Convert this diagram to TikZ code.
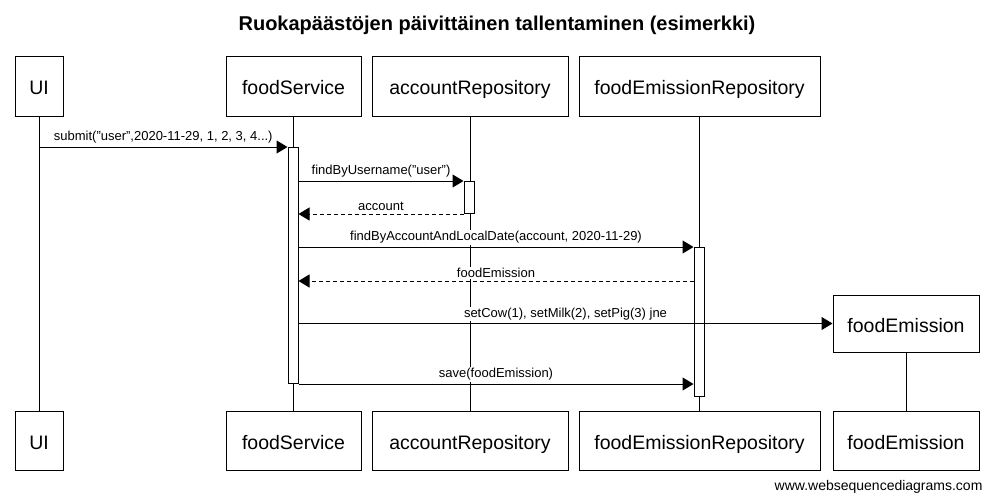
\documentclass[tikz,border=0pt]{standalone}
\usepackage{fontspec}
\setmainfont{Liberation Sans}
\usetikzlibrary{arrows.meta}
\begin{document}
\begin{tikzpicture}[x=1pt,y=-1pt,
  actor/.style={draw,line width=1pt,fill=white,minimum height=59pt,inner sep=0pt,text height=17pt,text depth=0pt,font=\fontsize{19.5}{22}\selectfont},
  actbar/.style={draw,line width=1pt,fill=white,minimum width=10pt,inner sep=0pt,anchor=north},
  life/.style={line width=1pt},
  msg/.style={line width=1pt,-{Triangle[length=11pt,width=13pt]}},
  ret/.style={msg,dash pattern=on 4pt off 3pt},
  lbl/.style={font=\fontsize{13}{15}\selectfont,inner sep=1pt,fill=white,above=2pt}]
\useasboundingbox (0,0) rectangle (994,503);
\node[font=\bfseries\fontsize{20}{24}\selectfont] (title) at (497,25.5) {Ruokapäästöjen päivittäinen tallentaminen (esimerkki)};
% top actors
\node[actor,minimum width=48pt] (ui) at (39,86.5) {UI};
\node[actor,minimum width=135pt] (fs) at (293.5,86.5) {foodService};
\node[actor,minimum width=196pt] (ar) at (470,86.5) {accountRepository};
\node[actor,minimum width=241pt] (fer) at (699.5,86.5) {foodEmissionRepository};
% bottom actors
\node[actor,minimum width=48pt] (uib) at (39,440.5) {UI};
\node[actor,minimum width=135pt] (fsb) at (293.5,440.5) {foodService};
\node[actor,minimum width=196pt] (arb) at (470,440.5) {accountRepository};
\node[actor,minimum width=241pt] (ferb) at (699.5,440.5) {foodEmissionRepository};
\node[actor,minimum width=146pt] (feb) at (906,440.5) {foodEmission};
% lifelines
\draw[life] (ui.south) -- (uib.north);
\draw[life] (fs.south) -- (fsb.north);
\draw[life] (ar.south) -- (arb.north);
\draw[life] (fer.south) -- (ferb.north);
% created object
\node[actor,minimum width=146pt,minimum height=57pt] (fe) at (906,323.5) {foodEmission};
\draw[life] (fe.south) -- (feb.north);
% activation bars
\node[actbar,minimum height=236pt] (fsA) at (293,147) {};
\node[actbar,minimum height=32pt] (arA) at (469,181) {};
\node[actbar,minimum height=149pt] (ferA) at (699,247) {};
\coordinate (r2) at (0,281);
% messages
\draw[msg] (ui |- fsA.north) -- node[lbl]{submit("user",2020-11-29, 1, 2, 3, 4...)} (fsA.north west);
\draw[msg] (fsA.east |- arA.north) -- node[lbl]{findByUsername("user")} (arA.north west);
\draw[ret] (arA.south west) -- node[lbl]{account} (fsA.east |- arA.south);
\draw[msg] (fsA.east |- ferA.north) -- node[lbl]{findByAccountAndLocalDate(account, 2020-11-29)} (ferA.north west);
\draw[ret] (ferA.west |- r2) -- node[lbl]{foodEmission} (fsA.east |- r2);
\draw[msg] (fsA.east |- fe.west) -- node[lbl]{setCow(1), setMilk(2), setPig(3) jne} (fe.west);
\draw[msg] (fsA.south east) -- node[lbl]{save(foodEmission)} (ferA.west |- fsA.south);
\node[font=\fontsize{14}{16}\selectfont,anchor=east] (foot) at (986,487) {www.websequencediagrams.com};
\end{tikzpicture}
\end{document}
